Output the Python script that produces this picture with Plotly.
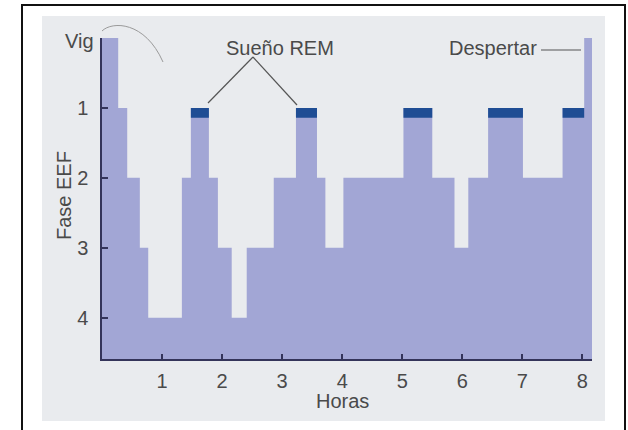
import plotly.graph_objects as go

# ---- data (hours, EEG stage; 0 = "Vig" / awake) ----
seg_start = [0.00, 0.27, 0.42, 0.63, 0.77, 1.33, 1.48, 1.78, 1.93, 2.16, 2.41, 2.86, 3.23, 3.58, 3.72, 4.02, 5.02, 5.50, 5.87, 6.10, 6.43, 7.01, 7.67, 8.03]
seg_end   = [0.27, 0.42, 0.63, 0.77, 1.33, 1.48, 1.78, 1.93, 2.16, 2.41, 2.86, 3.23, 3.58, 3.72, 4.02, 5.02, 5.50, 5.87, 6.10, 6.43, 7.01, 7.67, 8.03, 8.16]
seg_stage = [0,    1,    2,    3,    4,    2,    1,    2,    3,    4,    3,    2,    1,    2,    3,    2,    1,    2,    3,    2,    1,    2,    1,    0]
rem_start = [1.48, 3.23, 5.02, 6.43, 7.67]
rem_end   = [1.78, 3.58, 5.50, 7.01, 8.03]
rem_level = 1.0
rem_depth = 0.14
x_ticks = [1, 2, 3, 4, 5, 6, 7, 8]
y_ticks = [1, 2, 3, 4]
y_labels = ["1", "2", "3", "4"]

BOTTOM = 4.59
X_MAX = 8.16

# page geometry (pixels)
W, H = 628, 430
L, R, T, B = 102, 36, 38, 71
PW, PH = W - L - R, H - T - B

def px(x):
    return (x - L) / PW

def py(y):
    return (H - B - y) / PH

# step polygon built from the segments
xs, ys = [seg_start[0]], [BOTTOM]
for s, e, st in zip(seg_start, seg_end, seg_stage):
    xs += [s, e]
    ys += [st, st]
xs += [seg_end[-1], seg_start[0]]
ys += [BOTTOM, BOTTOM]

# REM rectangles
rx, ry = [], []
for s, e in zip(rem_start, rem_end):
    rx += [s, e, e, s, s, None]
    ry += [rem_level, rem_level, rem_level + rem_depth, rem_level + rem_depth, rem_level, None]

TXT = "#4a4a4a"
FONT = "Liberation Sans, Arial, sans-serif"
AX = "#34345a"
FS = 20

fig = go.Figure()
fig.add_trace(go.Scatter(x=xs, y=ys, mode="lines", fill="toself",
                         fillcolor="#a2a6d5", line=dict(width=0),
                         hoverinfo="skip", showlegend=False))
fig.add_trace(go.Scatter(x=rx, y=ry, mode="lines", fill="toself",
                         fillcolor="#1f4d94", line=dict(width=0),
                         hoverinfo="skip", showlegend=False))

shapes = [
    dict(type="rect", xref="paper", yref="paper", x0=px(42), x1=px(605), y0=py(421), y1=py(16),
         fillcolor="#e9ebee", line=dict(width=0), layer="below"),
    dict(type="rect", xref="paper", yref="paper", x0=px(22), x1=px(625), y0=py(433), y1=py(5),
         fillcolor="rgba(0,0,0,0)", line=dict(color="#111111", width=2), layer="below"),
    dict(type="line", xref="paper", yref="paper", x0=px(253), y0=py(57), x1=px(208), y1=py(103),
         line=dict(color="#555555", width=1.2)),
    dict(type="line", xref="paper", yref="paper", x0=px(253), y0=py(57), x1=px(297), y1=py(105),
         line=dict(color="#555555", width=1.2)),
    dict(type="line", xref="paper", yref="paper", x0=px(541), y0=py(50), x1=px(581), y1=py(50),
         line=dict(color="#555555", width=1.2)),
    dict(type="path", xref="paper", yref="paper",
         path=f"M {px(102)},{py(31)} C {px(112)},{py(21)} {px(145)},{py(21)} {px(163)},{py(62)}",
         line=dict(color="#9a9a9a", width=1)),
]

annotations = [
    dict(text="Vig", xref="paper", yref="paper", x=px(96), y=py(41), xanchor="right", yanchor="middle",
         showarrow=False, font=dict(size=FS, color=TXT, family=FONT)),
    dict(text="Sueño REM", xref="paper", yref="paper", x=px(280), y=py(48), xanchor="center", yanchor="middle",
         showarrow=False, font=dict(size=FS, color=TXT, family=FONT)),
    dict(text="Despertar", xref="paper", yref="paper", x=px(539), y=py(48), xanchor="right", yanchor="middle",
         showarrow=False, font=dict(size=FS, color=TXT, family=FONT)),
    dict(text="Horas", xref="paper", yref="paper", x=px(342), y=py(401), xanchor="center", yanchor="middle",
         showarrow=False, font=dict(size=FS, color=TXT, family=FONT)),
    dict(text="Fase EEF", xref="paper", yref="paper", x=px(64), y=py(196), xanchor="center", yanchor="middle",
         textangle=-90, showarrow=False, font=dict(size=FS, color=TXT, family=FONT)),
]

fig.update_layout(
    width=W, height=H,
    margin=dict(l=L, r=R, t=T, b=B, pad=0),
    paper_bgcolor="white", plot_bgcolor="rgba(0,0,0,0)",
    shapes=shapes, annotations=annotations,
    font=dict(family=FONT, color=TXT, size=FS),
    xaxis=dict(range=[0, X_MAX], tickvals=x_ticks, ticktext=[str(v) for v in x_ticks],
               showgrid=False, zeroline=False, showline=True, linecolor=AX, linewidth=2,
               ticks="inside", ticklen=5, tickwidth=1.5, tickcolor=AX,
               tickfont=dict(size=FS, color=TXT, family=FONT), ticklabelstandoff=3),
    yaxis=dict(range=[BOTTOM, 0], tickvals=y_ticks, ticktext=y_labels,
               showgrid=False, zeroline=False, showline=True, linecolor=AX, linewidth=1.5,
               ticks="inside", ticklen=6, tickwidth=1.5, tickcolor=AX,
               tickfont=dict(size=FS, color=TXT, family=FONT), ticklabelstandoff=8),
)

fig.write_html("out.html", config={"displayModeBar": False},
               post_script="document.body.style.margin='0';document.body.style.overflow='hidden';")
